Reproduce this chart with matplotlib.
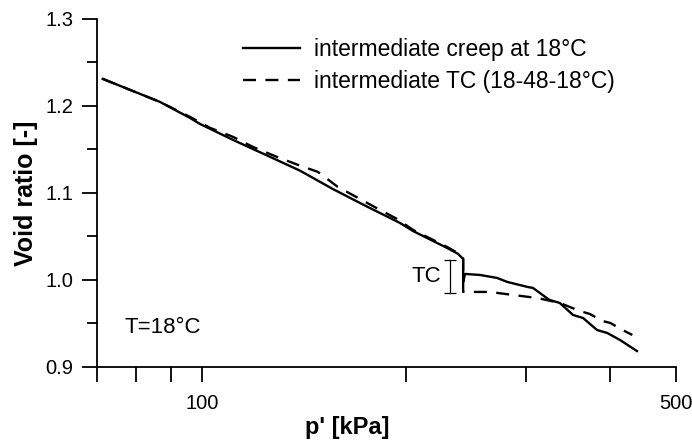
import matplotlib
matplotlib.use("Agg")
import matplotlib.pyplot as plt
from matplotlib.ticker import FixedLocator, NullFormatter, FixedFormatter

plt.rcParams['font.family'] = ['Liberation Sans', 'DejaVu Sans']

# intermediate creep at 18 C
p_creep = [71.4, 78.3, 86.7, 96.0, 99.3, 111.1, 124.7, 139.5, 156.0, 175.0, 195.8,
           204.8, 229.8, 238.6, 242.7, 242.7, 244.3, 257.1, 272.3, 281.9, 302.1,
           307.6, 317.8, 325.3, 336.9, 352.4, 364.6, 382.3, 395.8, 413.4, 437.8]
e_creep = [1.2311, 1.2185, 1.2046, 1.1862, 1.1793, 1.1609, 1.1430, 1.1255, 1.1043,
           1.0843, 1.0654, 1.0560, 1.0366, 1.0297, 1.0239, 0.9975, 1.0067, 1.0055,
           1.0021, 0.9975, 0.9917, 0.9906, 0.9825, 0.9768, 0.9733, 0.9595, 0.9560,
           0.9422, 0.9388, 0.9307, 0.9180]

# intermediate TC (18-48-18 C)
p_tc = [71.4, 78.3, 86.7, 96.0, 102.8, 111.1, 118.9, 129.0, 138.6, 148.2, 158.6,
        169.8, 183.0, 193.9, 204.8, 229.8, 238.6, 242.7, 242.7, 246.0, 265.7,
        287.5, 312.3, 336.9, 360.8, 373.0, 389.0, 400.0, 417.0, 431.0]
e_tc = [1.2311, 1.2185, 1.2046, 1.1874, 1.1747, 1.1644, 1.1528, 1.1413, 1.1321,
        1.1241, 1.1068, 1.0942, 1.0803, 1.0700, 1.0573, 1.0378, 1.0305, 1.0245,
        0.9860, 0.9860, 0.9860, 0.9825, 0.9790, 0.9733, 0.9640, 0.9607, 0.9527,
        0.9503, 0.9422, 0.9365]

# TC bracket
p_bracket = 232.3
e_bracket = [1.023, 0.985]

x_ticks = [70, 80, 90, 100, 200, 300, 400, 500]
x_labels = ['', '', '', '100', '', '', '', '500']

fig = plt.figure(figsize=(6.92, 4.41), dpi=100)
ax = fig.add_axes([0.140, 0.1685, 0.837, 0.7885])

ax.plot(p_creep, e_creep, color='black', linewidth=1.7,
        label='intermediate creep at 18°C')
ax.plot(p_tc, e_tc, color='black', linewidth=1.7, dashes=(5.5, 4),
        label='intermediate TC (18-48-18°C)')

ax.plot([p_bracket, p_bracket], e_bracket, color='black', linewidth=0.9,
        marker='_', markersize=9, markeredgewidth=0.9)
ax.text(213.9, 1.0032, 'TC', fontsize=16, ha='center', va='center')
ax.text(0.048, 0.114, 'T=18°C', fontsize=16, ha='left', va='center',
        transform=ax.transAxes)

ax.set_xscale('log')
ax.set_xlim(70, 500)
ax.set_ylim(0.9, 1.3)
ax.xaxis.set_major_locator(FixedLocator(x_ticks))
ax.xaxis.set_major_formatter(FixedFormatter(x_labels))
ax.xaxis.set_minor_locator(FixedLocator([]))
ax.xaxis.set_minor_formatter(NullFormatter())
ax.set_yticks([0.9, 1.0, 1.1, 1.2, 1.3])
ax.set_yticklabels(['0.9', '1.0', '1.1', '1.2', '1.3'])
ax.set_yticks([0.95, 1.05, 1.15, 1.25], minor=True)

for s in ['top', 'right']:
    ax.spines[s].set_visible(False)
for s in ['left', 'bottom']:
    ax.spines[s].set_linewidth(1.3)
ax.tick_params(axis='both', which='major', direction='out', length=11, width=1.3,
               labelsize=14.5)
ax.tick_params(axis='x', which='major', pad=9)
ax.tick_params(axis='y', which='major', pad=6)
ax.tick_params(axis='y', which='minor', direction='out', length=7, width=1.3)

ax.set_xlabel("p' [kPa]", fontsize=17, fontweight='bold')
ax.xaxis.set_label_coords(0.432, -0.143)
ax.set_ylabel('Void ratio [-]', fontsize=18, fontweight='bold')
ax.yaxis.set_label_coords(-0.102, 0.5)

ax.legend(loc='upper left', bbox_to_anchor=(0.252, 0.945), frameon=False,
          fontsize=16.5, handlelength=2.5, handletextpad=0.6, borderpad=0,
          borderaxespad=0, labelspacing=0.4)

fig.savefig('out.png', dpi=100)
